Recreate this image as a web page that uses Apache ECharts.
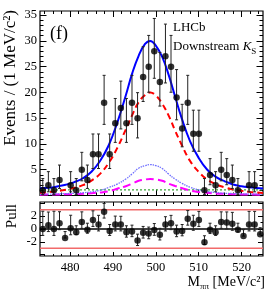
<!DOCTYPE html>
<html><head><meta charset="utf-8">
<script src="https://cdn.jsdelivr.net/npm/echarts@6/dist/echarts.min.js"></script>
<style>html,body{margin:0;padding:0;background:#fff}#c{width:279px;height:294px}</style>
</head><body><div id="c"></div>
<script>
// ---- data ----
const binCenters = [473.65,474.95,476.25,477.55,478.85,480.15,481.45,482.75,484.05,485.35,
  486.65,487.95,489.25,490.55,491.85,493.15,494.45,495.75,497.05,498.35,
  499.65,500.95,502.25,503.55,504.85,506.15,507.45,508.75,510.05,511.35,
  512.65,513.95,515.25,516.55,517.85,519.15,520.45,521.75,523.05,524.35];
const counts = [1,2,1,3,0,2,1,5,3,8,
  8,18,8,14,17,14,18,15,23,25,
  28,22,27,25,19,13,18,12,12,1,
  4,2,5,4,3,1,0,2,2,0];
const pulls = [0.0,0.6,0.0,0.9,-1.4,0.1,-0.5,1.1,-0.1,1.4,
  0.7,2.7,-0.3,0.7,0.7,-0.5,-0.4,-1.8,-0.6,-0.7,
  -0.15,-0.9,0.7,0.9,-0.4,-0.3,1.6,0.8,1.4,-2.05,
  -0.1,-0.5,1.1,1.0,0.8,-0.1,-1.1,0.7,0.7,-0.8];
const curveX = [473,475,477,479,481,483,485,487,489,491,493,494.5,496,497.5,498.7,
  500,501.5,503,504.5,506,508,510,512,514,516,518,520,522,525];
const totalFit = [1.4,1.5,1.75,2.1,2.6,3.35,4.6,6.7,9.7,14.1,19.4,23.7,27.1,29.4,30,
  29.1,26.9,23.4,19.2,15.1,10.5,7.3,5.0,3.6,2.8,2.15,1.8,1.6,1.35];
const mainComp = [0.53,0.66,0.84,1.1,1.5,2.0,2.9,4.2,6.3,9.2,12.8,15.6,18.1,19.5,20,
  19.4,17.8,15.5,12.6,9.9,6.7,4.6,3.1,2.2,1.6,1.16,0.9,0.7,0.5];
const wideComp = [0.24,0.27,0.31,0.37,0.43,0.53,0.72,1.0,1.55,2.2,3.2,4.2,5.3,5.8,6,
  5.8,5.25,4.15,3.2,2.4,1.6,1.1,0.77,0.6,0.44,0.38,0.31,0.28,0.23];
const tailComp = [0.16,0.18,0.2,0.23,0.27,0.33,0.45,0.6,0.8,1.3,1.8,2.3,2.85,3.1,3.2,
  3.1,2.85,2.3,1.85,1.45,0.95,0.68,0.52,0.4,0.32,0.26,0.21,0.19,0.16];
const bkgX = [473,525];
const bkgY = [1.1,1.1];
const xTickLabels = [480,490,500,510,520];
const yTickLabels = [5,10,15,20,25,30,35];
const pullTickLabels = [-2,0,2];
const pullLimits = [-3,3];

// ---- layout ----
const X_MIN = 473, X_MAX = 525, Y_MAX = 35.8, P_MIN = -4.2, P_MAX = 4.2;
const FONT = 'Liberation Serif';

function garwood(n){
  let lo = 0;
  if (n > 0) lo = n*Math.pow(1 - 1/(9*n) - 1/(3*Math.sqrt(n)), 3);
  const m = n + 1;
  const hi = m*Math.pow(1 - 1/(9*m) + 1/(3*Math.sqrt(m)), 3);
  return [lo, hi];
}
function range(a,b,s,skip){const r=[];for(let v=a;v<=b+1e-9;v+=s){const vv=Math.round(v*1000)/1000;if(!skip||!skip(vv))r.push(vv);}return r;}

const xMajor = range(480,520,10);
const xMinor = range(474,524,2,v=>v%10===0);
const yMajor = range(0,35,5);
const yMinor = range(1,35,1,v=>v%5===0);
const pMajor = range(-4,4,2);
const pMinor = range(-3,3,2);

function xAx(grid, pos, ticks, len, labels){
  return {type:'value', gridIndex:grid, position:pos, min:X_MIN, max:X_MAX,
    axisLine:{show:false,onZero:false}, splitLine:{show:false},
    axisTick:{show:true, inside:true, length:len, customValues:ticks, lineStyle:{color:'#000',width:1}},
    axisLabel: labels ? {show:true, customValues:labels, margin:5, fontFamily:FONT, fontSize:12.5, color:'#000'} : {show:false}};
}
function yAx(grid, pos, min, max, ticks, len, labels){
  return {type:'value', gridIndex:grid, position:pos, min:min, max:max,
    axisLine:{show:false,onZero:false}, splitLine:{show:false},
    axisTick:{show:true, inside:true, length:len, customValues:ticks, lineStyle:{color:'#000',width:1}},
    axisLabel: labels ? {show:true, customValues:labels, margin:3, fontFamily:FONT, fontSize:12.5, color:'#000',
      formatter:v=>String(v)} : {show:false}};
}

const grids = [
  {left:40, width:223, top:11, height:184.5, show:true, borderColor:'#000', borderWidth:1.2},
  {left:40, width:223, top:11, height:184.5, show:false},
  {left:40, width:223, top:202, height:54, show:true, borderColor:'#000', borderWidth:1.2},
  {left:40, width:223, top:202, height:54, show:false}
];
const xAxes = [
  xAx(0,'bottom',xMajor,6), xAx(0,'top',xMajor,6),
  xAx(1,'bottom',xMinor,3), xAx(1,'top',xMinor,3),
  xAx(2,'bottom',xMajor,4,xTickLabels), xAx(2,'top',xMajor,4),
  xAx(3,'bottom',xMinor,2), xAx(3,'top',xMinor,2)
];
const yAxes = [
  yAx(0,'left',0,Y_MAX,yMajor,6.5,yTickLabels), yAx(0,'right',0,Y_MAX,yMajor,6.5),
  yAx(1,'left',0,Y_MAX,yMinor,3.5), yAx(1,'right',0,Y_MAX,yMinor,3.5),
  yAx(2,'left',P_MIN,P_MAX,pMajor,5,pullTickLabels), yAx(2,'right',P_MIN,P_MAX,pMajor,5),
  yAx(3,'left',P_MIN,P_MAX,pMinor,2.5), yAx(3,'right',P_MIN,P_MAX,pMinor,2.5)
];

const zip = (xs, ys) => xs.map((x,i)=>[x, ys[i]]);

// main panel points and error bars (empty bins not drawn)
const mainPts = [], mainErr = [];
counts.forEach((n,i)=>{
  if (n <= 0) return;
  const [lo,hi] = garwood(n);
  mainPts.push([binCenters[i], n]);
  mainErr.push([binCenters[i], lo, hi]);
});
// pull points and error bars
const pullPts = [], pullErr = [];
pulls.forEach((p,i)=>{
  const n = counts[i];
  const [lo,hi] = garwood(n);
  const eLo = n - lo, eHi = hi - n;
  let up, dn;
  if (p >= 0) { dn = 1; up = eLo > 0 ? eHi/eLo : 1; }
  else { up = 1; dn = eHi > 0 ? eLo/eHi : 0; }
  pullPts.push([binCenters[i], p]);
  pullErr.push([binCenters[i], p - dn, p + up]);
});

function errSeries(xi, yi, data){
  return {type:'custom', xAxisIndex:xi, yAxisIndex:yi, data:data, clip:true, z:5,
    encode:{x:0, y:[1,2]},
    renderItem:(params, api)=>{
      const x = api.value(0);
      const a = api.coord([x, api.value(1)]), b = api.coord([x, api.value(2)]);
      const c = 1.5, st = {stroke:'#222', lineWidth:1};
      return {type:'group', children:[
        {type:'line', shape:{x1:a[0],y1:a[1],x2:b[0],y2:b[1]}, style:st},
        {type:'line', shape:{x1:a[0]-c,y1:a[1],x2:a[0]+c,y2:a[1]}, style:st},
        {type:'line', shape:{x1:b[0]-c,y1:b[1],x2:b[0]+c,y2:b[1]}, style:st}
      ]};
    }};
}
function curve(ys, color, width, type, z){
  return {type:'line', xAxisIndex:0, yAxisIndex:0, data:zip(curveX, ys), showSymbol:false,
    smooth:0.45, z:z, silent:true,
    lineStyle:{color:color, width:width, type:type}};
}

const series = [
  {type:'line', xAxisIndex:0, yAxisIndex:0, data:zip(bkgX,bkgY), showSymbol:false, z:2,
    lineStyle:{color:'#3aa53a', width:1.3, type:[2,2]}},
  curve(tailComp, '#ff00ff', 2, [8,4], 3),
  curve(wideComp, '#7070ff', 1.3, [1.5,1], 3),
  curve(mainComp, '#ff0000', 2, [6,4], 3),
  curve(totalFit, '#0000ff', 2, 'solid', 4),
  errSeries(0,0,mainErr),
  {type:'scatter', xAxisIndex:0, yAxisIndex:0, data:mainPts, symbol:'circle', symbolSize:6.5,
    itemStyle:{color:'#000'}, z:6},
  // pull panel
  {type:'line', xAxisIndex:4, yAxisIndex:4, data:zip([X_MIN,X_MAX],[pullLimits[1],pullLimits[1]]), showSymbol:false, z:2,
    lineStyle:{color:'#f26a6a', width:1.6}},
  {type:'line', xAxisIndex:4, yAxisIndex:4, data:zip([X_MIN,X_MAX],[pullLimits[0],pullLimits[0]]), showSymbol:false, z:2,
    lineStyle:{color:'#f26a6a', width:1.6}},
  {type:'line', xAxisIndex:4, yAxisIndex:4, data:zip([X_MIN,X_MAX],[0,0]), showSymbol:false, z:2,
    lineStyle:{color:'#000', width:1.3}},
  errSeries(4,4,pullErr),
  {type:'scatter', xAxisIndex:4, yAxisIndex:4, data:pullPts, symbol:'circle', symbolSize:6.5,
    itemStyle:{color:'#000'}, z:6}
];

const graphic = [
  {type:'text', x:59, y:34, style:{text:'(f)', font:'18px "Liberation Serif"', fill:'#000', align:'center', verticalAlign:'middle'}},
  {type:'text', x:173, y:28, style:{text:'LHCb', font:'13px "Liberation Serif"', fill:'#000', align:'left', verticalAlign:'middle'}},
  {type:'text', x:173, y:47, style:{text:'{r|Downstream }{i|K}{s|S}', align:'left', verticalAlign:'middle',
    rich:{r:{fontFamily:FONT, fontSize:13, lineHeight:18, verticalAlign:'middle', color:'#000'},
          i:{fontFamily:FONT, fontSize:13, fontStyle:'italic', lineHeight:18, verticalAlign:'middle', color:'#000'},
          s:{fontFamily:FONT, fontSize:9, lineHeight:9, verticalAlign:'bottom', color:'#000'}}}},
  {type:'text', x:10.5, y:10, rotation:Math.PI/2, style:{text:'Events / (1 MeV/c\u00b2)', font:'17px "Liberation Serif"', fill:'#000', align:'right', verticalAlign:'middle'}},
  {type:'text', x:12, y:204, rotation:Math.PI/2, style:{text:'Pull', font:'15px "Liberation Serif"', fill:'#000', align:'right', verticalAlign:'middle'}},
  {type:'text', x:265, y:282, style:{text:'{a|M}{b|\u03c0\u03c0}{a| [MeV/c\u00b2]}', align:'right', verticalAlign:'middle',
    rich:{a:{fontFamily:FONT, fontSize:14, lineHeight:18, verticalAlign:'middle', color:'#000'},
          b:{fontFamily:FONT, fontSize:9, lineHeight:9, verticalAlign:'bottom', color:'#000'}}}}
];

const chart = echarts.init(document.getElementById('c'), null, {renderer:'canvas'});
chart.setOption({animation:false, backgroundColor:'#fff', grid:grids, xAxis:xAxes, yAxis:yAxes, series:series, graphic:graphic});
</script></body></html>
